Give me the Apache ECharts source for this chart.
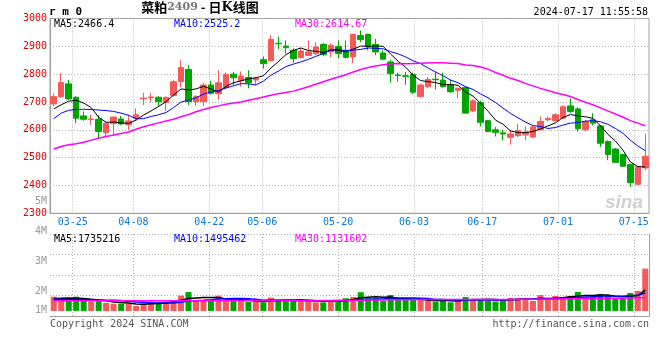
<!DOCTYPE html>
<html><head><meta charset="utf-8">
<script src="https://cdn.jsdelivr.net/npm/echarts@6/dist/echarts.min.js"></script>
<style>html,body{margin:0;padding:0;background:#fff}#c{width:660px;height:360px}</style>
</head><body><div id="c"></div>
<script>
const dates = ['03-20','03-21','03-22','03-25','03-26','03-27','03-28','03-29',
'04-01','04-02','04-03','04-08','04-09','04-10','04-11','04-12','04-15','04-16','04-17','04-18','04-19','04-22','04-23','04-24','04-25','04-26','04-29','04-30',
'05-06','05-07','05-08','05-09','05-10','05-13','05-14','05-15','05-16','05-17','05-20','05-21','05-22','05-23','05-24','05-27','05-28','05-29','05-30','05-31',
'06-03','06-04','06-05','06-06','06-07','06-11','06-12','06-13','06-14','06-17','06-18','06-19','06-20','06-21','06-24','06-25','06-26','06-27','06-28',
'07-01','07-02','07-03','07-04','07-05','07-08','07-09','07-10','07-11','07-12','07-15','07-16','07-17'];
const tickDates = ['03-25','04-08','04-22','05-06','05-20','06-03','06-17','07-01','07-15'];
const opens = [2693,2719,2765,2717,2650,2637,2638,2590,2622,2639,2618,2642,2711,2715,2717,2698,2723,2773,2817,2701,
2701,2761,2730,2752,2800,2776,2788,2779,2852,2848,2911,2901,2886,2860,2867,2874,2907,2880,2900,2886,
2862,2939,2943,2907,2876,2844,2797,2794,2799,2720,2755,2782,2779,2761,2742,2752,2668,2698,2633,2600,
2589,2573,2579,2582,2574,2600,2636,2633,2642,2686,2675,2600,2636,2614,2558,2531,2511,2475,2404,2463];
const closes = [2719,2770,2711,2642,2638,2639,2594,2624,2646,2621,2632,2654,2714,2718,2701,2717,2773,2824,2701,2719,
2761,2731,2769,2799,2787,2793,2769,2785,2838,2925,2909,2895,2856,2883,2880,2898,2871,2904,2874,2860,
2943,2924,2898,2880,2854,2802,2795,2792,2735,2761,2781,2780,2755,2737,2749,2660,2704,2627,2594,2591,
2585,2585,2597,2592,2610,2630,2641,2654,2683,2666,2604,2630,2624,2552,2511,2483,2469,2410,2467,2505];
const lows = [2684,2714,2707,2624,2632,2618,2567,2578,2579,2617,2600,2633,2689,2698,2684,2668,2719,2752,2689,2686,
2686,2727,2708,2748,2761,2755,2749,2761,2820,2845,2890,2874,2840,2856,2864,2868,2864,2860,2856,2856,
2840,2915,2886,2868,2850,2769,2773,2762,2729,2716,2749,2745,2752,2733,2713,2657,2663,2612,2591,2576,
2562,2547,2574,2562,2570,2598,2630,2630,2638,2660,2594,2594,2616,2538,2491,2481,2467,2395,2402,2455];
const highs = [2731,2803,2779,2721,2666,2654,2652,2628,2647,2650,2654,2677,2733,2733,2721,2719,2779,2850,2833,2725,
2769,2776,2814,2806,2808,2810,2814,2791,2864,2940,2935,2921,2893,2895,2921,2915,2912,2910,2921,2921,
2945,2957,2945,2927,2886,2852,2805,2808,2805,2765,2790,2808,2805,2779,2752,2757,2710,2705,2636,2610,
2600,2600,2621,2612,2614,2648,2648,2660,2689,2713,2681,2636,2660,2618,2562,2535,2514,2479,2469,2586];
const ma5 = [2675,2690,2703,2706,2696,2680,2645,2627,2628,2625,2623,2635,2653,2668,2684,2701,2725,2747,2743,2747,
2756,2747,2736,2756,2769,2776,2783,2787,2794,2822,2845,2870,2885,2894,2885,2882,2878,2887,2885,2881,
2890,2901,2900,2901,2900,2872,2846,2825,2796,2777,2773,2770,2762,2763,2760,2736,2721,2695,2667,2635,
2620,2596,2590,2590,2594,2603,2614,2625,2644,2655,2650,2647,2641,2615,2584,2560,2528,2485,2468,2466.4];
const ma10 = [2640,2660,2670,2673,2674,2673,2671,2669,2666,2660,2652,2640,2640,2648,2654,2662,2680,2700,2706,2715,
2728,2736,2741,2750,2758,2766,2765,2761,2775,2796,2811,2827,2836,2844,2853,2864,2874,2886,2890,2883,
2886,2889,2894,2893,2891,2881,2873,2862,2848,2838,2822,2808,2794,2779,2769,2755,2745,2729,2715,2698,
2678,2659,2643,2628,2615,2612,2605,2608,2617,2624,2626,2631,2633,2629,2620,2605,2588,2563,2542,2525.2];
const ma30 = [2531,2540,2546,2550,2555,2563,2570,2576,2581,2587,2592,2602,2611,2618,2625,2632,2638,2647,2655,2665,
2673,2680,2686,2692,2696,2700,2706,2712,2718,2724,2730,2734,2739,2747,2755,2764,2773,2782,2790,2798,
2808,2817,2824,2829,2834,2837,2838,2837,2838,2839,2840,2841,2841,2839,2838,2833,2831,2826,2818,2806,
2796,2785,2777,2767,2758,2749,2741,2733,2727,2720,2709,2699,2690,2679,2668,2657,2646,2633,2624,2614.67];
// volume, in millions of lots
const volumes = [1.19,1.11,0.92,1.19,0.83,0.78,0.83,0.67,0.61,0.61,0.61,0.42,0.61,0.78,0.72,0.78,0.89,1.28,1.58,0.92,
0.92,0.92,1.28,0.89,0.83,0.83,0.78,0.78,0.72,1.11,0.92,0.92,0.92,0.78,0.89,0.72,0.72,0.89,0.89,1.06,
1.17,1.56,1.06,1.06,0.83,1.33,0.92,0.92,0.92,0.92,0.83,0.78,1.00,0.72,0.89,1.17,1.00,1.00,0.83,0.78,
1.00,1.08,1.08,1.00,0.83,1.33,0.92,1.25,1.17,1.25,1.58,1.17,1.25,1.42,1.25,1.00,1.00,1.50,1.67,3.53];
const volMa5 = [1.05,1.06,1.08,1.07,1.05,0.97,0.91,0.86,0.74,0.70,0.67,0.58,0.57,0.61,0.63,0.66,0.76,0.89,1.05,1.09,
1.12,1.12,1.12,0.99,0.97,0.95,0.92,0.82,0.79,0.84,0.86,0.89,0.92,0.93,0.89,0.85,0.81,0.80,0.82,0.86,
0.95,1.11,1.15,1.18,1.14,1.17,1.04,1.01,0.98,1.00,0.90,0.87,0.89,0.85,0.84,0.91,0.96,0.96,0.98,0.96,
0.92,0.94,0.95,0.99,1.00,1.06,1.03,1.07,1.10,1.18,1.23,1.28,1.28,1.33,1.33,1.22,1.18,1.23,1.28,1.735216];
const volMa10 = [0.98,0.97,0.96,0.96,0.95,0.93,0.92,0.90,0.89,0.88,0.82,0.75,0.72,0.68,0.67,0.67,0.67,0.73,0.83,0.86,
0.89,0.94,1.01,1.02,1.03,1.04,1.02,0.97,0.89,0.91,0.91,0.91,0.87,0.86,0.87,0.86,0.85,0.86,0.88,0.88,
0.90,0.96,0.98,1.00,1.00,1.06,1.08,1.08,1.08,1.07,1.04,0.96,0.95,0.92,0.92,0.91,0.92,0.93,0.92,0.90,
0.92,0.95,0.96,0.99,0.98,0.99,0.99,1.01,1.05,1.09,1.15,1.16,1.18,1.22,1.26,1.23,1.23,1.26,1.31,1.495462];
const volMa30 = [0.86,0.86,0.86,0.86,0.86,0.86,0.86,0.86,0.86,0.86,0.86,0.85,0.85,0.85,0.85,0.85,0.85,0.86,0.86,0.86,
0.86,0.87,0.87,0.87,0.87,0.87,0.88,0.88,0.88,0.88,0.88,0.88,0.88,0.88,0.88,0.88,0.88,0.88,0.88,0.88,
0.89,0.90,0.91,0.92,0.92,0.93,0.93,0.94,0.94,0.95,0.95,0.95,0.95,0.95,0.95,0.95,0.95,0.95,0.95,0.95,
0.96,0.96,0.97,0.97,0.98,0.99,0.99,1.00,1.01,1.02,1.03,1.03,1.04,1.05,1.06,1.06,1.07,1.08,1.09,1.131602];
const volTickLabels = ['1M','2M','3M','4M','5M'];
const titleName = '菜粕', titleCode = '2409', titleRest = ' - 日', titleK = 'K', titleTail = '线图';
const symbolText = 'r m 0';
const stamp = '2024-07-17 11:55:58';
const copyright = 'Copyright 2024 SINA.COM';
const siteUrl = 'http://finance.sina.com.cn';

const MONO = 'DejaVu Sans Mono';
const UP = '#f55a5a', DOWN = '#00a600';
const GRIDC = '#b4b4b4', BORDER = '#a0a0a0';
const last = a => a[a.length - 1];
const isTick = (i, v) => tickDates.indexOf(v !== undefined ? v : dates[i]) >= 0;
const dotted = {show: true, interval: isTick, lineStyle: {color: GRIDC, type: [1, 2], width: 1}};

const chart = echarts.init(document.getElementById('c'), null, {renderer: 'canvas'});
const txt = (x, y, text, color, align, font) => ({
  type: 'text', x: x, y: y, z: 100,
  style: {text: text, fill: color, textAlign: align || 'left', textVerticalAlign: 'middle',
          font: font || ('10px ' + MONO)}
});

chart.setOption({
  animation: false,
  backgroundColor: '#fff',
  title: {
    text: '{a|' + titleName + '}{b|' + titleCode + '}{a|' + titleRest + '}{k|' + titleK + '}{a|' + titleTail + '}',
    left: 200, top: 1, padding: 0, textAlign: 'center',
    textStyle: {rich: {
      a: {fontFamily: 'Noto Sans CJK SC', fontSize: 13, color: '#000'},
      b: {fontFamily: 'DejaVu Serif', fontSize: 11, color: '#777'},
      k: {fontFamily: 'DejaVu Serif', fontSize: 13, fontWeight: 'bold', color: '#000'}
    }}
  },
  grid: [
    {left: 50, top: 18.5, width: 599, height: 194.8, show: true, borderColor: BORDER, borderWidth: 1},
    {left: 50, top: 234, width: 599, height: 82},
    {left: 50, top: 201, width: 10, height: 120}
  ],
  xAxis: [
    {type: 'category', gridIndex: 0, data: dates, boundaryGap: true, show: false},
    {type: 'category', gridIndex: 0, data: dates, boundaryGap: false, position: 'bottom',
     axisLine: {show: true, lineStyle: {color: BORDER}}, axisTick: {show: false},
     axisLabel: {interval: isTick, color: '#0a78d4', fontFamily: MONO, fontSize: 10, margin: 4},
     splitLine: dotted},
    {type: 'category', gridIndex: 1, data: dates, boundaryGap: true, show: false},
    {type: 'category', gridIndex: 1, data: dates, boundaryGap: false, position: 'top',
     axisLine: {show: true, lineStyle: {color: BORDER}}, axisTick: {show: false},
     axisLabel: {show: false}, splitLine: dotted},
    {type: 'category', gridIndex: 2, data: dates, show: false}
  ],
  yAxis: [
    {type: 'value', gridIndex: 0, min: 2300, max: 3000, interval: 100,
     axisLine: {show: true, lineStyle: {color: BORDER}}, axisTick: {show: false},
     axisLabel: {color: '#dd0000', fontFamily: MONO, fontSize: 10, margin: 3, formatter: v => String(v)},
     splitLine: {show: true, lineStyle: {color: GRIDC, type: [1, 2]}}},
    {type: 'value', gridIndex: 1, min: -0.42, max: 6.42, show: false, splitLine: {show: false}},
    {type: 'value', gridIndex: 1, min: 0, max: 4, interval: 1,
     axisLine: {show: true, lineStyle: {color: BORDER}}, axisTick: {show: false}, axisLabel: {show: false},
     splitLine: {show: true, lineStyle: {color: GRIDC, type: [1, 2]}}},
    {type: 'value', gridIndex: 1, min: 0, max: 4, interval: 1, position: 'right',
     axisLine: {show: true, lineStyle: {color: BORDER}}, axisTick: {show: false}, axisLabel: {show: false},
     splitLine: {show: false}},
    {type: 'value', gridIndex: 2, min: 1, max: 5, interval: 1,
     axisLine: {show: false}, axisTick: {show: false}, splitLine: {show: false},
     axisLabel: {color: '#9a9a9a', fontFamily: MONO, fontSize: 10, margin: 3,
                 customValues: [1.36, 2, 3, 4, 5],
                 formatter: v => volTickLabels[Math.round(v) - 1]}}
  ],
  series: [
    {type: 'candlestick', xAxisIndex: 0, yAxisIndex: 0, barWidth: 6,
     data: dates.map((d, i) => [opens[i], closes[i], lows[i], highs[i]]),
     itemStyle: {color: UP, color0: DOWN, borderColor: UP, borderColor0: DOWN, borderWidth: 1}},
    {type: 'line', xAxisIndex: 0, yAxisIndex: 0, data: ma5, symbol: 'none', lineStyle: {color: '#000', width: 1}, z: 5},
    {type: 'line', xAxisIndex: 0, yAxisIndex: 0, data: ma10, symbol: 'none', lineStyle: {color: '#0000ff', width: 1}, z: 5},
    {type: 'line', xAxisIndex: 0, yAxisIndex: 0, data: ma30, symbol: 'none', lineStyle: {color: '#ff00ff', width: 1.5}, z: 5},
    {type: 'bar', xAxisIndex: 2, yAxisIndex: 1, barWidth: 6,
     data: volumes.map((v, i) => ({value: v, itemStyle: {color: closes[i] >= opens[i] ? UP : DOWN}}))},
    {type: 'line', xAxisIndex: 2, yAxisIndex: 1, data: volMa5, symbol: 'none', lineStyle: {color: '#000', width: 1.5}, z: 5},
    {type: 'line', xAxisIndex: 2, yAxisIndex: 1, data: volMa10, symbol: 'none', lineStyle: {color: '#0000ff', width: 1.5}, z: 5},
    {type: 'line', xAxisIndex: 2, yAxisIndex: 1, data: volMa30, symbol: 'none', lineStyle: {color: '#ff00ff', width: 1.5}, z: 5}
  ],
  graphic: [
    txt(49, 12, symbolText, '#000', 'left', 'bold 11px ' + MONO),
    txt(648, 12, stamp, '#000', 'right'),
    txt(54, 24, 'MA5:' + last(ma5).toFixed(1), '#000'),
    txt(174, 24, 'MA10:' + last(ma10).toFixed(1), '#0000ff'),
    txt(295, 24, 'MA30:' + last(ma30).toFixed(2), '#ff00ff'),
    txt(54, 239, 'MA5:' + Math.round(last(volMa5) * 1e6), '#000'),
    txt(174, 239, 'MA10:' + Math.round(last(volMa10) * 1e6), '#0000ff'),
    txt(295, 239, 'MA30:' + Math.round(last(volMa30) * 1e6), '#ff00ff'),
    txt(50, 324, copyright, '#555'),
    txt(649, 324, siteUrl, '#555', 'right'),
    txt(624, 203, 'sina', 'rgba(170,170,170,0.55)', 'center', 'italic bold 19px Liberation Sans')
  ]
});
</script></body></html>
